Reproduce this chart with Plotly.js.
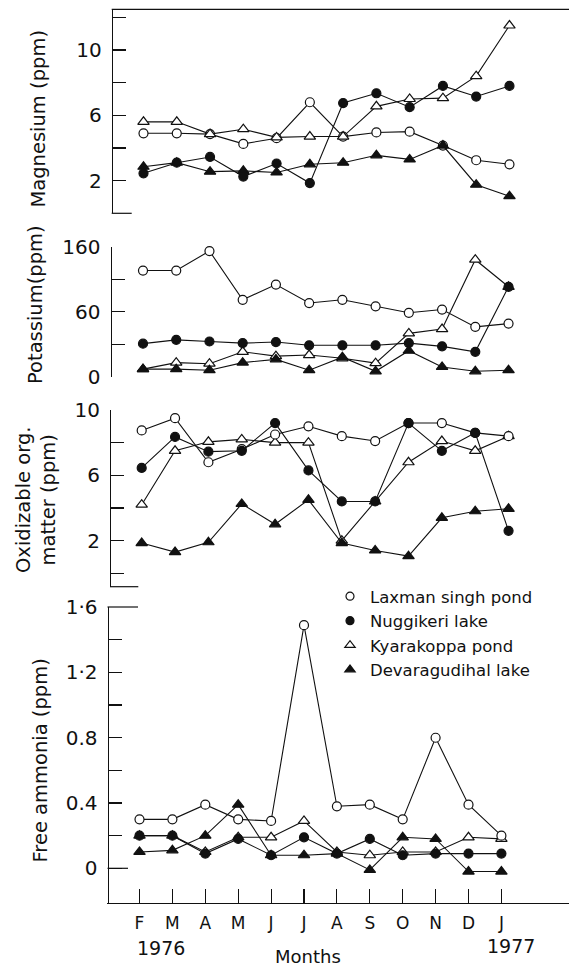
<!DOCTYPE html>
<html>
<head>
<meta charset="utf-8">
<script src="https://cdn.plot.ly/plotly-3.0.1.min.js"></script>
<style>html,body{margin:0;padding:0;background:#fff;}#chart{width:569px;height:967px;}</style>
</head>
<body>
<div id="chart"></div>
<script>
// ---- data (months Feb 1976 .. Jan 1977) ----
const monthIndex = [0,1,2,3,4,5,6,7,8,9,10,11];
const monthLabels = ['F','M','A','M','J','J','A','S','O','N','D','J'];
const seriesNames = ['Laxman singh pond','Nuggikeri lake','Kyarakoppa pond','Devaragudihal lake'];

// Magnesium (ppm)
const mgLaxman   = [4.9, 4.9, 4.85, 4.25, 4.6, 6.8, 4.7, 4.95, 5.0, 4.15, 3.25, 3.0];
const mgNuggikeri= [2.45, 3.1, 3.45, 2.25, 3.05, 1.85, 6.75, 7.35, 6.5, 7.8, 7.15, 7.8];
const mgKyara    = [5.6, 5.6, 4.85, 5.15, 4.65, 4.7, 4.7, 6.55, 7.0, 7.05, 8.4, 11.5];
const mgDevara   = [2.85, 3.1, 2.55, 2.6, 2.5, 3.0, 3.1, 3.55, 3.3, 4.15, 1.75, 1.05];

// Potassium (ppm) - plotted on the printed axis (ticks every 30 units)
const kLaxman    = [98, 98, 116, 71, 85, 68, 71, 65, 59, 62, 46, 49];
const kNuggikeri = [30.5, 34, 32.5, 31, 32, 29, 29, 29, 31, 28, 23, 83];
const kKyara     = [7, 13, 12, 23, 19, 20, 17, 12.5, 40, 44, 108, 83];
const kDevara    = [7, 7, 6, 13, 16, 6, 18, 5, 24, 9, 5, 6];
const kTickVals  = [0, 30, 60, 90, 120];
const kTickText  = ['0', '', '60', '', '160'];

// Oxidizable organic matter (ppm)
const oxLaxman   = [8.75, 9.5, 6.8, 7.6, 8.5, 9.0, 8.4, 8.1, 9.2, 9.2, 8.6, 8.4];
const oxNuggikeri= [6.45, 8.35, 7.45, 7.5, 9.2, 6.3, 4.4, 4.4, 9.2, 7.5, 8.6, 2.6];
const oxKyara    = [4.2, 7.5, 8.05, 8.2, 8.0, 8.0, 2.0, 4.4, 6.8, 8.1, 7.5, 8.4];
const oxDevara   = [1.85, 1.3, 1.9, 4.25, 3.0, 4.5, 1.85, 1.4, 1.05, 3.4, 3.8, 3.95];

// Free ammonia (ppm)
const nhLaxman   = [0.30, 0.30, 0.39, 0.30, 0.29, 1.49, 0.38, 0.39, 0.30, 0.80, 0.39, 0.20];
const nhNuggikeri= [0.20, 0.20, 0.09, 0.18, 0.08, 0.19, 0.09, 0.18, 0.08, 0.09, 0.09, 0.09];
const nhKyara    = [0.20, 0.20, 0.10, 0.19, 0.19, 0.29, 0.10, 0.08, 0.10, 0.10, 0.19, 0.18];
const nhDevara   = [0.10, 0.11, 0.20, 0.39, 0.08, 0.08, 0.09, -0.01, 0.19, 0.18, -0.02, -0.02];

// ---- styling ----
const W = 569, H = 967;
const INK = '#111';
const FONT = 'DejaVu Sans';
const px = v => v / W;
const py = v => 1 - v / H;

const styles = [
  {symbol:'circle', fill:'#fff', size:9},
  {symbol:'circle', fill:INK, size:9},
  {symbol:'triangle-up', fill:'#fff', size:10},
  {symbol:'triangle-up', fill:INK, size:10}
];

// drawing order of the four series in each panel (which symbol lies on top)
const panels = [
  {xa:'x',  ya:'y',  data:[mgLaxman, mgNuggikeri, mgKyara, mgDevara], order:[0,1,2,3]},
  {xa:'x2', ya:'y2', data:[kLaxman, kNuggikeri, kKyara, kDevara], order:[2,0,1,3]},
  {xa:'x3', ya:'y3', data:[oxLaxman, oxNuggikeri, oxKyara, oxDevara], order:[2,0,1,3]},
  {xa:'x4', ya:'y4', data:[nhLaxman, nhNuggikeri, nhKyara, nhDevara], order:[2,3,0,1]}
];

const traces = [];
panels.forEach(p => {
  p.order.forEach(i => {
    traces.push({
      x: monthIndex, y: p.data[i], xaxis: p.xa, yaxis: p.ya,
      type: 'scatter', mode: 'lines+markers', showlegend: false, cliponaxis: false,
      name: seriesNames[i],
      line: {color: INK, width: 1.1},
      marker: {symbol: styles[i].symbol, size: styles[i].size, color: styles[i].fill,
               line: {color: INK, width: 1.2}}
    });
  });
});
// legend entries (symbols only)
seriesNames.forEach((n, i) => {
  traces.push({
    x: [null], y: [null], xaxis: 'x4', yaxis: 'y4', type: 'scatter', mode: 'markers',
    name: n, showlegend: true,
    marker: {symbol: styles[i].symbol, size: styles[i].size - 1, color: styles[i].fill,
             line: {color: INK, width: 1.2}}
  });
});

// x-axis geometry: pixel of first month and spacing for each panel
function xRange(firstPx, step, leftPx) {
  return [(leftPx - firstPx) / step, (W - firstPx) / step];
}
const hiddenX = (r, anchor) => ({domain:[0,1], range:r, anchor:anchor, visible:false, fixedrange:true});

const yBase = {
  showline: true, linecolor: INK, linewidth: 1.2, ticks: 'inside', ticklen: 13,
  tickwidth: 1.2, tickcolor: INK, showgrid: false, zeroline: false, anchor: 'free',
  tickfont: {family: FONT, size: 20, color: INK}, ticklabelstandoff: 6
};

const layout = {
  width: W, height: H,
  margin: {l:0, r:0, t:0, b:0, pad:0},
  paper_bgcolor: '#fff', plot_bgcolor: 'rgba(0,0,0,0)',
  font: {family: FONT, color: INK},
  showlegend: true,
  legend: {x: px(330), y: py(579), xanchor: 'left', yanchor: 'top',
           font: {family: FONT, size: 16.5, color: INK}, bgcolor: 'rgba(0,0,0,0)',
           tracegroupgap: 0, itemwidth: 30},
  xaxis:  hiddenX(xRange(143.5, 33.27, 0), 'y'),
  xaxis2: hiddenX(xRange(143, 33.23, 0), 'y2'),
  xaxis3: hiddenX(xRange(141.7, 33.35, 0), 'y3'),
  xaxis4: {
    domain: [px(107), 1], range: xRange(139.5, 32.9, 107), anchor: 'y4',
    showline: true, linecolor: INK, linewidth: 1.2, ticks: 'inside', ticklen: 14,
    tickwidth: 1.2, tickcolor: INK, showgrid: false, zeroline: false,
    tickvals: monthIndex, ticktext: monthLabels,
    tickfont: {family: FONT, size: 17, color: INK}, ticklabelstandoff: 5
  },
  yaxis: Object.assign({}, yBase, {
    domain: [py(213.3), py(9.3)], range: [0, (213.3 - 9.3) / 16.33],
    position: px(111.7), tickvals: [0,2,4,6,8,10,12],
    ticktext: ['', '2', '', '6', '', '10', '']
  }),
  yaxis2: Object.assign({}, yBase, {
    domain: [py(376.7), py(246.7)], range: [0, 120],
    position: px(110.5), tickvals: kTickVals, ticktext: kTickText
  }),
  yaxis3: Object.assign({}, yBase, {
    domain: [py(586.7), py(410)], range: [-(586.7 - 573.3) / 16.33, 10],
    position: px(110), tickvals: [0,2,4,6,8,10],
    ticktext: ['', '2', '', '6', '', '10']
  }),
  yaxis4: Object.assign({}, yBase, {
    domain: [py(902.5), py(607)], range: [-(902.5 - 868.3) / 163.2, (868.3 - 607) / 163.2],
    position: px(107.5), tickvals: [0,0.2,0.4,0.6,0.8,1.0,1.2,1.4,1.6],
    ticktext: ['0', '', '0.4', '', '0.8', '', '1·2', '', '1·6']
  }),
  shapes: [
    {type:'line', xref:'paper', yref:'paper', x0:px(111.7), x1:1, y0:py(9.3), y1:py(9.3), line:{color:INK, width:1.2}},
    {type:'line', xref:'paper', yref:'paper', x0:px(111.7), x1:px(131.7), y0:py(213.3), y1:py(213.3), line:{color:INK, width:1.2}},
    {type:'line', xref:'paper', yref:'paper', x0:px(110), x1:px(138.3), y0:py(586.7), y1:py(586.7), line:{color:INK, width:1.2}},
    {type:'line', xref:'paper', yref:'paper', x0:px(107.5), x1:px(138), y0:py(607), y1:py(607), line:{color:INK, width:1.2}},
    {type:'line', xref:'paper', yref:'paper', x0:px(107.5), x1:px(128), y0:py(868.3), y1:py(868.3), line:{color:INK, width:1.2}}
  ],
  annotations: [
    {text:'Magnesium (ppm)', x:px(38.3), y:py(118.3), textangle:-90},
    {text:'Potassium(ppm)', x:px(35), y:py(305), textangle:-90},
    {text:'Oxidizable org.<br>matter (ppm)', x:px(36), y:py(500), textangle:-90},
    {text:'Free ammonia (ppm)', x:px(39.5), y:py(761), textangle:-90},
    {text:'1976', x:px(160.7), y:py(948), font:{family:FONT, size:19, color:INK}},
    {text:'1977', x:px(511.3), y:py(946), font:{family:FONT, size:19, color:INK}},
    {text:'Months', x:px(307.5), y:py(956), font:{family:FONT, size:18, color:INK}}
  ].map(a => Object.assign({xref:'paper', yref:'paper', showarrow:false,
      xanchor:'center', yanchor:'middle', font:{family:FONT, size:19.5, color:INK}}, a))
};

Plotly.newPlot('chart', traces, layout, {displayModeBar:false, staticPlot:true});
</script>
</body>
</html>
